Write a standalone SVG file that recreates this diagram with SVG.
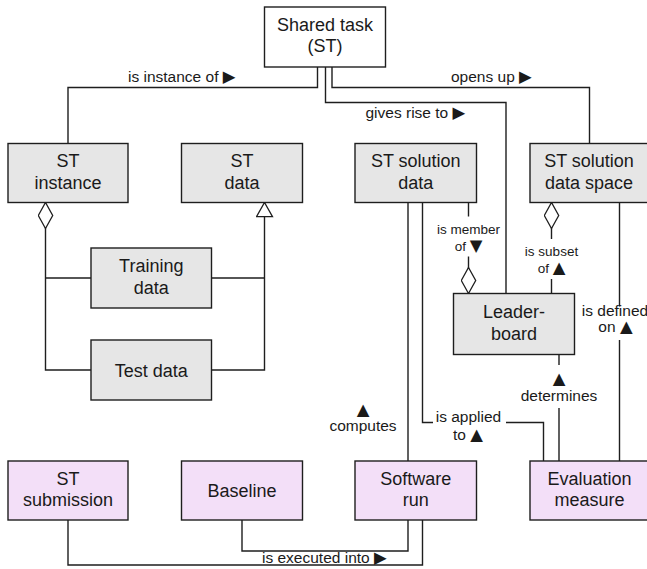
<svg xmlns="http://www.w3.org/2000/svg" width="647" height="569" viewBox="0 0 647 569">
<style>
.box{stroke:#1e1e1e;stroke-width:1.4}
.w{fill:#ffffff}
.g{fill:#e6e6e6}
.p{fill:#f3dff8}
.t{font-family:"Liberation Sans","DejaVu Sans",Arial,sans-serif;font-size:18px;fill:#1a1a1a;text-anchor:middle}
.l{font-family:"Liberation Sans","DejaVu Sans",Arial,sans-serif;font-size:15.5px;fill:#1a1a1a}
.s{font-size:13.5px}
.m{text-anchor:middle}
.tr{font-family:"DejaVu Sans",sans-serif;font-size:16.5px}
.c{fill:none;stroke:#1e1e1e;stroke-width:1.4}
</style>
<defs>
<marker id="dia" viewBox="0 0 28 16" markerWidth="28" markerHeight="16" refX="27" refY="8" orient="auto" markerUnits="userSpaceOnUse">
<path d="M1,8 L14,0.8 L27,8 L14,15.2 Z" fill="#ffffff" stroke="#1e1e1e" stroke-width="1.3"/>
</marker>
<marker id="tri" viewBox="0 0 16 18" markerWidth="16" markerHeight="18" refX="15" refY="9" orient="auto" markerUnits="userSpaceOnUse">
<path d="M0.8,1 L15,9 L0.8,17 Z" fill="#ffffff" stroke="#1e1e1e" stroke-width="1.3"/>
</marker>
</defs>
<rect width="647" height="569" fill="#ffffff"/>
<g id="connectors">
<path class="c" d="M317.5,67 V87.5 H68 V143.5"/>
<path class="c" d="M325.5,67 V102.5 H506 V293.5"/>
<path class="c" d="M332,67 V87.5 H589.5 V143.5"/>
<path class="c" d="M91,370 H45.5 V202.5" marker-end="url(#dia)"/>
<path class="c" d="M91,278 H45.5"/>
<path class="c" d="M211.5,370 H264.5 V202.5" marker-end="url(#tri)"/>
<path class="c" d="M211.5,278 H264.5"/>
<path class="c" d="M408,461 V202.5"/>
<path class="c" d="M422.5,202.5 V422.5 H433 M506,422.5 H543.5 V461"/>
<path class="c" d="M468.5,202.5 V216.5 M468.5,256.5 V293.5" marker-end="url(#dia)"/>
<path class="c" d="M551.5,293.5 V279 M551.5,239 V202.5" marker-end="url(#dia)"/>
<path class="c" d="M619.5,202.5 V306.5 M619.5,340 V461"/>
<path class="c" d="M559,354.5 V365 M559,408 V461"/>
<path class="c" d="M242,520 V551 H408 V520"/>
<path class="c" d="M68,520 V565 H422.5 V520"/>
<text class="l" x="128" y="81.5">is instance of <tspan class="tr">▶</tspan></text>
<text class="l" x="451" y="81.5">opens up <tspan class="tr">▶</tspan></text>
<text class="l" x="365.5" y="118">gives rise to <tspan class="tr">▶</tspan></text>
<text class="l s m" x="468.5" y="234">is member<tspan x="468.5" y="250.5">of <tspan class="tr">▼</tspan></tspan></text>
<text class="l s m" x="551.5" y="256">is subset<tspan x="551.5" y="273">of <tspan class="tr">▲</tspan></tspan></text>
<text class="l m" x="615" y="315.5">is defined<tspan x="615.5" y="332">on <tspan class="tr">▲</tspan></tspan></text>
<text class="l m" x="559" y="384"><tspan class="tr">▲</tspan><tspan x="559" y="400.5">determines</tspan></text>
<text class="l m" x="363" y="414.5"><tspan class="tr">▲</tspan><tspan x="363" y="431">computes</tspan></text>
<text class="l m" x="468.5" y="421.5">is applied<tspan x="468" y="439.5">to <tspan class="tr">▲</tspan></tspan></text>
<text class="l" x="262" y="562.5">is executed into <tspan class="tr">▶</tspan></text>
</g>
<g id="shared-task"><rect class="box w" x="264.5" y="7" width="121" height="60"/><text class="t" x="325" y="30.5">Shared task<tspan x="325" y="52">(ST)</tspan></text></g>
<g id="st-instance"><rect class="box g" x="8" y="143.5" width="120" height="59"/><text class="t" x="68" y="167">ST<tspan x="68" y="188.5">instance</tspan></text></g>
<g id="st-data"><rect class="box g" x="181.5" y="143.5" width="121" height="59"/><text class="t" x="242" y="167">ST<tspan x="242" y="188.5">data</tspan></text></g>
<g id="st-solution-data"><rect class="box g" x="355" y="143.5" width="121.5" height="59"/><text class="t" x="415.75" y="167">ST solution<tspan x="415.75" y="188.5">data</tspan></text></g>
<g id="st-solution-data-space"><rect class="box g" x="530" y="143.5" width="120" height="59"/><text class="t" x="589" y="167">ST solution<tspan x="589" y="188.5">data space</tspan></text></g>
<g id="training-data"><rect class="box g" x="91" y="248" width="120.5" height="60"/><text class="t" x="151.25" y="272">Training<tspan x="151.25" y="293.5">data</tspan></text></g>
<g id="test-data"><rect class="box g" x="91" y="340" width="120.5" height="60"/><text class="t" x="151.25" y="376.5">Test data</text></g>
<g id="leaderboard"><rect class="box g" x="453.5" y="293.5" width="121" height="61"/><text class="t" x="514" y="318">Leader-<tspan x="514" y="339.5">board</tspan></text></g>
<g id="st-submission"><rect class="box p" x="8" y="461" width="120" height="59"/><text class="t" x="68" y="484.5">ST<tspan x="68" y="506">submission</tspan></text></g>
<g id="baseline"><rect class="box p" x="181.5" y="461" width="121" height="59"/><text class="t" x="242" y="497">Baseline</text></g>
<g id="software-run"><rect class="box p" x="355" y="461" width="121.5" height="59"/><text class="t" x="415.75" y="484.5">Software<tspan x="415.75" y="506">run</tspan></text></g>
<g id="evaluation-measure"><rect class="box p" x="530" y="461" width="120" height="59"/><text class="t" x="589.5" y="484.5">Evaluation<tspan x="589.5" y="506">measure</tspan></text></g>
</svg>
